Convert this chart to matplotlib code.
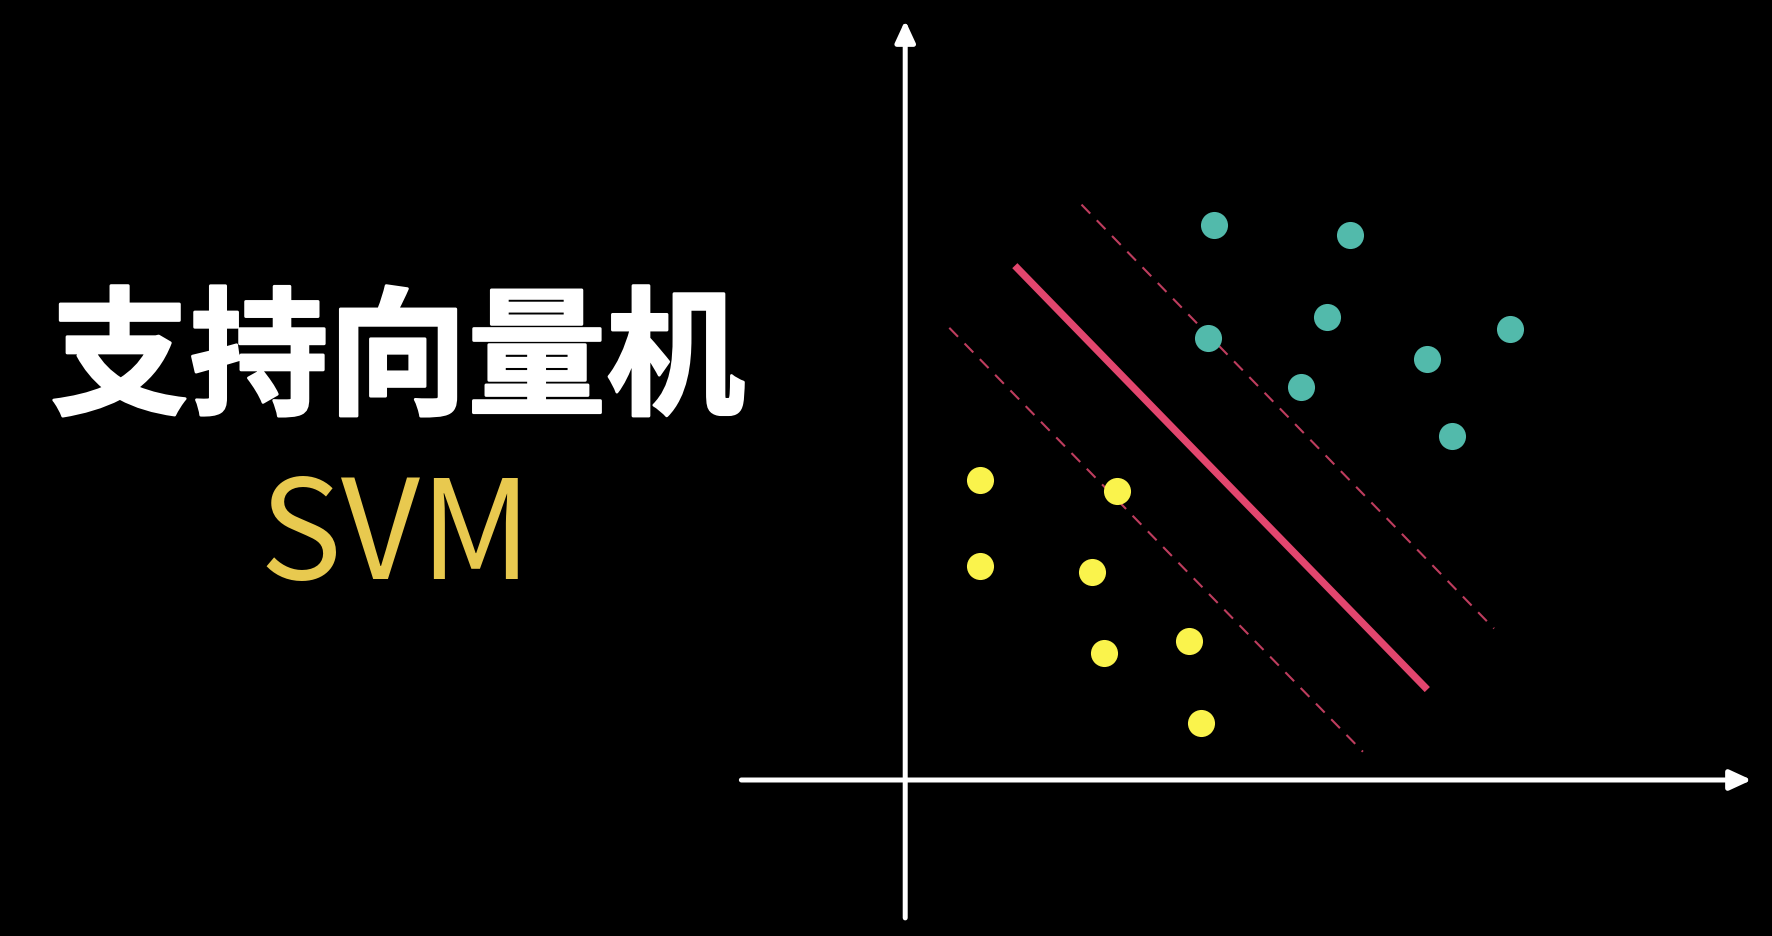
import matplotlib.pyplot as plt
import matplotlib.patheffects as pe

# two classes of points (axis origin at the crossing of the arrows)
teal_x = [5.46, 7.88, 7.46, 5.36, 10.70, 9.24, 7.00, 9.68]
teal_y = [9.82, 9.64, 8.20, 7.82, 7.98, 7.44, 6.96, 6.08]
yellow_x = [1.32, 3.74, 1.32, 3.30, 3.52, 5.02, 5.24]
yellow_y = [5.30, 5.12, 3.78, 3.68, 2.24, 2.46, 1.00]

# separating line and the two margins (end points)
hyper_x = [1.94, 9.24]
hyper_y = [9.10, 1.60]
margin_up_x = [3.12, 10.42]
margin_up_y = [10.18, 2.68]
margin_lo_x = [0.78, 8.10]
margin_lo_y = [8.00, 0.50]

title_zh = '支持向量机'
title_en = 'SVM'

fig = plt.figure(figsize=(17.72, 9.36), dpi=100, facecolor='black')
ax = fig.add_axes([0, 0, 1, 1])
ax.set_facecolor('black')
ax.set_xlim(-16.02, 15.34)
ax.set_ylim(-2.76, 13.8)
ax.axis('off')

# coordinate axes with arrow heads
arrow = dict(arrowstyle='-|>,head_length=1.3,head_width=0.6', color='white', lw=3.6,
             shrinkA=0, shrinkB=0)
ax.annotate('', xy=(14.98, 0), xytext=(-2.9, 0), arrowprops=arrow)
ax.annotate('', xy=(0, 13.44), xytext=(0, -2.44), arrowprops=arrow)

ax.plot(margin_up_x, margin_up_y, color='#E0486F', lw=1.5, ls=(0, (6, 4.5)), alpha=0.85)
ax.plot(margin_lo_x, margin_lo_y, color='#E0486F', lw=1.5, ls=(0, (6, 4.5)), alpha=0.85)
ax.plot(hyper_x, hyper_y, color='#E2466E', lw=5.2, solid_capstyle='butt')

ax.scatter(teal_x, teal_y, s=380, color='#52BAAB', lw=0, zorder=3)
ax.scatter(yellow_x, yellow_y, s=380, color='#FAF34C', lw=0, zorder=3)

# title is a very heavy face; thicken the bold glyphs a little
fig.text(0.2245, 0.612, title_zh, color='white', fontsize=100, fontweight='black',
         family=['Noto Sans CJK SC', 'DejaVu Sans'], ha='center', va='center',
         path_effects=[pe.withStroke(linewidth=2.0, foreground='white')])
fig.text(0.2235, 0.423, title_en, color='#E8C94F', fontsize=99, fontweight='medium',
         family=['Noto Sans CJK SC', 'DejaVu Sans'], ha='center', va='center')

fig.savefig('out.png', dpi=100, facecolor='black')
